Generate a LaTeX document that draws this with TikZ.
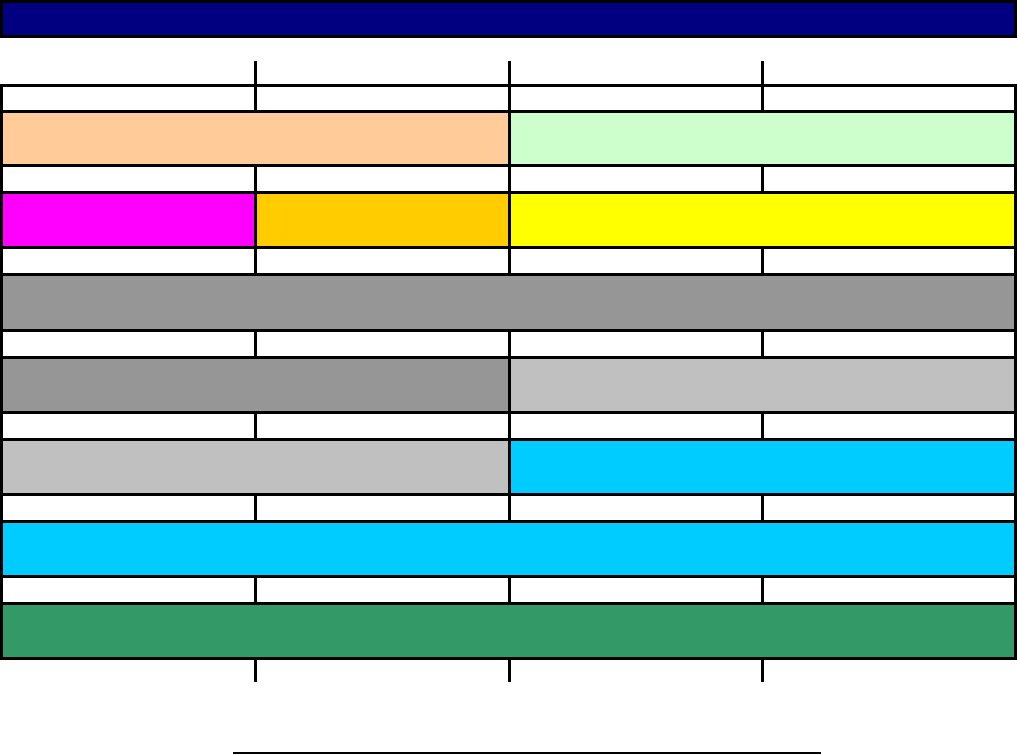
\documentclass[tikz,border=0pt]{standalone}
\begin{document}
\begin{tikzpicture}[x=1pt,y=-1pt,
  cell/.style={draw=black,line width=3pt},
  rule/.style={draw=black,line width=3pt},
]
\definecolor{cnavy}{HTML}{000080}
\definecolor{cpeach}{HTML}{FFCC99}
\definecolor{cmint}{HTML}{CCFFCC}
\definecolor{cmag}{HTML}{FF00FF}
\definecolor{corange}{HTML}{FFCC00}
\definecolor{cyel}{HTML}{FFFF00}
\definecolor{cgray}{HTML}{969696}
\definecolor{clgray}{HTML}{C0C0C0}
\definecolor{ccyan}{HTML}{00CCFF}
\definecolor{cgreen}{HTML}{339966}
\path[use as bounding box,fill=white] (0,0) rectangle (1018,754);
% banner
\draw[cell,fill=cnavy] (1.5,1.5) rectangle (1015.5,37);
% top ticks
\foreach \x in {255,509,762} \draw[rule] (\x,61) -- (\x,86);
% white rows with dividers
\foreach \a/\b in {86/112,166/193,248/275,330/357,412/439,494/521,576/603}{
  \draw[cell,fill=white] (1.5,\a) rectangle (1015.5,\b);
  \foreach \x in {255,509,762} \draw[rule] (\x,\a) -- (\x,\b);
}
% coloured rows
\draw[cell,fill=cpeach] (1.5,112) rectangle (509,166);
\draw[cell,fill=cmint] (509,112) rectangle (1015.5,166);
\draw[cell,fill=cmag] (1.5,193) rectangle (255,248);
\draw[cell,fill=corange] (255,193) rectangle (509,248);
\draw[cell,fill=cyel] (509,193) rectangle (1015.5,248);
\draw[cell,fill=cgray] (1.5,275) rectangle (1015.5,330);
\draw[cell,fill=cgray] (1.5,357) rectangle (509,412);
\draw[cell,fill=clgray] (509,357) rectangle (1015.5,412);
\draw[cell,fill=clgray] (1.5,439) rectangle (509,494);
\draw[cell,fill=ccyan] (509,439) rectangle (1015.5,494);
\draw[cell,fill=ccyan] (1.5,521) rectangle (1015.5,576);
\draw[cell,fill=cgreen] (1.5,603) rectangle (1015.5,658);
% bottom ticks
\foreach \x in {255,509,762} \draw[rule] (\x,658) -- (\x,682);
% bottom rule
\draw[black,line width=2pt] (233,752.5) -- (821,752.5);
\end{tikzpicture}
\end{document}
